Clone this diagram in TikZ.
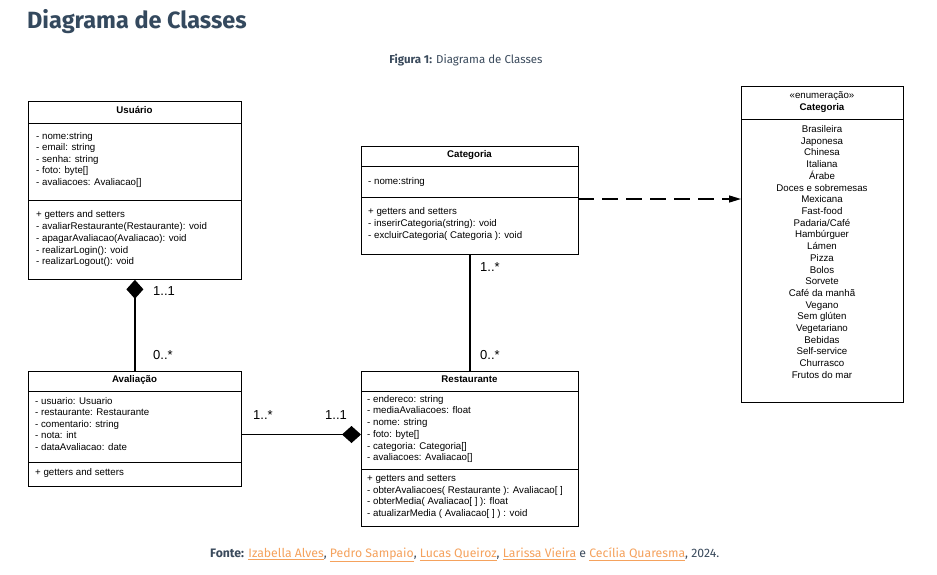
\documentclass[tikz,border=0pt]{standalone}
\usepackage{fontspec}
\setmainfont{Liberation Sans}
\newfontfamily\webfont{Fira Sans}
\usetikzlibrary{arrows.meta}
\definecolor{titlecol}{HTML}{34495E}
\definecolor{linkcol}{HTML}{F5A25D}
\definecolor{capcol}{HTML}{3A4A5C}
\tikzset{
  umlbox/.style={draw, line width=0.8pt, anchor=north west, inner sep=0pt},
  sepline/.style={line width=0.8pt},
  ltxt/.style={anchor=west, inner sep=0pt, font=\fontsize{9.7}{11}\selectfont, text height=7pt, text depth=2pt},
  ctxt/.style={anchor=center, inner sep=0pt, font=\fontsize{9.7}{11}\selectfont, text height=7pt, text depth=2pt},
  btxt/.style={anchor=center, inner sep=0pt, font=\fontsize{9.7}{11}\selectfont\bfseries, text height=7pt, text depth=2pt},
  mult/.style={anchor=west, inner sep=0pt, font=\fontsize{13}{15}\selectfont, text height=9pt, text depth=2pt},
  conn/.style={line width=1.6pt},
  comp/.style={{Diamond[length=19pt,width=17pt]}-},
}
\newcommand{\lk}[1]{\textcolor{linkcol}{\underline{#1}}}
\begin{document}
\begin{tikzpicture}[x=1pt,y=-1pt]
\useasboundingbox[fill=white] (0,0) rectangle (937,574);

% title and caption
\node[anchor=west, inner sep=0pt, text=titlecol, font=\webfont\fontsize{23.5}{26}\selectfont\bfseries] (title) at (27,22) {Diagrama de Classes};
\node[anchor=center, inner sep=0pt, text=capcol, font=\webfont\fontsize{11.5}{13}\selectfont] (caption) at (466,60) {\textbf{Figura 1:} Diagrama de Classes};

% Usuario
\node[umlbox, minimum width=213pt, minimum height=178pt] (usuario) at (28,101) {};
\draw[sepline] (28,123) -- (241,123);
\draw[sepline] (28,200) -- (241,200);
\node[btxt] (usuarioT) at (134.5,110.5) {Usuário};
\node[ltxt] (u1) at (36,137) {- nome:string};
\node[ltxt] (u2) at (36,148) {- email: string};
\node[ltxt] (u3) at (36,159.5) {- senha: string};
\node[ltxt] (u4) at (36,171) {- foto: byte[]};
\node[ltxt] (u5) at (36,182.5) {- avaliacoes: Avaliacao[]};
\node[ltxt] (u6) at (36,214.5) {+ getters and setters};
\node[ltxt] (u7) at (36,226.5) {- avaliarRestaurante(Restaurante): void};
\node[ltxt] (u8) at (36,238.5) {- apagarAvaliacao(Avaliacao): void};
\node[ltxt] (u9) at (36,250.5) {- realizarLogin(): void};
\node[ltxt] (u10) at (36,262) {- realizarLogout(): void};

% Categoria class
\node[umlbox, minimum width=217pt, minimum height=108pt] (categoria) at (361,146) {};
\draw[sepline] (361,166) -- (578,166);
\draw[sepline] (361,197) -- (578,197);
\node[btxt] (categoriaT) at (469.5,155) {Categoria};
\node[ltxt] (c1) at (368,181.5) {- nome:string};
\node[ltxt] (c2) at (368,212) {+ getters and setters};
\node[ltxt] (c3) at (368,224) {- inserirCategoria(string): void};
\node[ltxt] (c4) at (368,236) {- excluirCategoria( Categoria ): void};

% enumeration
\node[umlbox, minimum width=162pt, minimum height=316pt] (enum) at (741,85.5) {};
\draw[sepline] (741,119.5) -- (903,119.5);
\node[ctxt] (enumS) at (822,96) {«enumeração»};
\node[btxt] (enumT) at (822,107.5) {Categoria};
\foreach \t [count=\i from 0] in {Brasileira,Japonesa,Chinesa,Italiana,Árabe,Doces e sobremesas,Mexicana,Fast-food,Padaria/Café,Hambúrguer,Lámen,Pizza,Bolos,Sorvete,Café da manhã,Vegano,Sem glúten,Vegetariano,Bebidas,Self-service,Churrasco,Frutos do mar}
  \node[ctxt] (e\i) at (822,{130+11.71*\i}) {\t};

% Avaliacao
\node[umlbox, minimum width=213pt, minimum height=115.5pt] (avaliacao) at (28,370.5) {};
\draw[sepline] (28,391.5) -- (241,391.5);
\draw[sepline] (28,462) -- (241,462);
\node[btxt] (avaliacaoT) at (134.5,379.5) {Avaliação};
\node[ltxt] (a1) at (35,401.5) {- usuario: Usuario};
\node[ltxt] (a2) at (35,413) {- restaurante: Restaurante};
\node[ltxt] (a3) at (35,424.5) {- comentario: string};
\node[ltxt] (a4) at (35,436) {- nota: int};
\node[ltxt] (a5) at (35,448) {- dataAvaliacao: date};
\node[ltxt] (a6) at (35,472.5) {+ getters and setters};

% Restaurante
\node[umlbox, minimum width=217pt, minimum height=155pt] (restaurante) at (361,370.5) {};
\draw[sepline] (361,391) -- (578,391);
\draw[sepline] (361,469) -- (578,469);
\node[btxt] (restauranteT) at (469.5,379.5) {Restaurante};
\node[ltxt] (r1) at (367,399.5) {- endereco: string};
\node[ltxt] (r2) at (367,411.2) {- mediaAvaliacoes: float};
\node[ltxt] (r3) at (367,423) {- nome: string};
\node[ltxt] (r4) at (367,434.7) {- foto: byte[]};
\node[ltxt] (r5) at (367,446.5) {- categoria: Categoria[]};
\node[ltxt] (r6) at (367,458) {- avaliacoes: Avaliacao[]};
\node[ltxt] (r7) at (367,479) {+ getters and setters};
\node[ltxt] (r8) at (367,490.7) {- obterAvaliacoes( Restaurante ): Avaliacao[ ]};
\node[ltxt] (r9) at (367,502.4) {- obterMedia( Avaliacao[ ] ): float};
\node[ltxt] (r10) at (367,514.2) {- atualizarMedia ( Avaliacao[ ] ) : void};

% connectors
\draw[conn, comp] (usuario.south) -- (avaliacao.north);
\node[mult] (m1) at (153,292) {1..1};
\node[mult] (m2) at (153,355.5) {0..*};

\coordinate (ar) at (241,434.5);
\coordinate (ra) at (361,434.5);
\draw[conn, -{Diamond[length=19pt,width=17pt]}] (ar) -- (ra);
\node[mult] (m3) at (253,415.5) {1..*};
\node[mult] (m4) at (325,415.5) {1..1};

\draw[conn] (categoria.south) -- (restaurante.north);
\node[mult] (m5) at (480,268) {1..*};
\node[mult] (m6) at (480,355.5) {0..*};

\coordinate (cs) at (578,199);
\coordinate (ce) at (741,199);
\draw[line width=1.4pt, dash pattern=on 16pt off 8pt, -{Triangle[length=12pt,width=7pt]}] (cs) -- (ce);

% footer
\node[anchor=west, inner sep=0pt, text=capcol, font=\webfont\fontsize{12.25}{14}\selectfont] (fonte) at (210,555) {\textbf{Fonte:} \lk{Izabella Alves}, \lk{Pedro Sampaio}, \lk{Lucas Queiroz}, \lk{Larissa Vieira} e \lk{Cecília Quaresma}, 2024.};
\end{tikzpicture}
\end{document}
